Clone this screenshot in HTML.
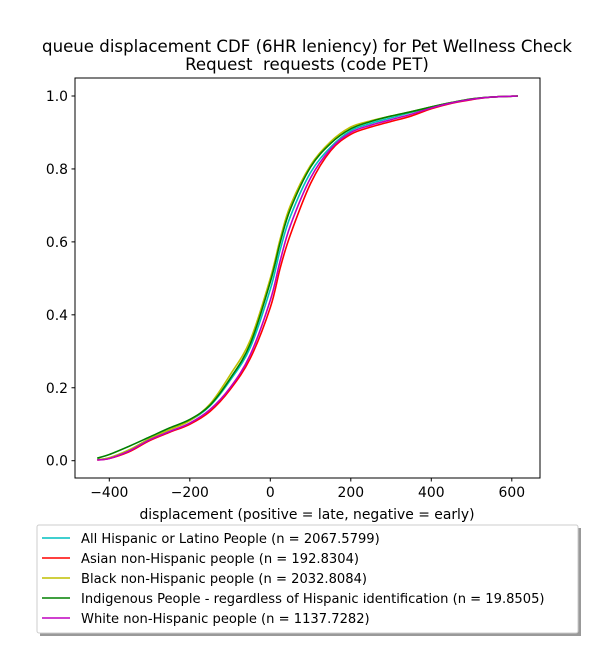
<!DOCTYPE html>
<html><head><meta charset="utf-8">
<style>
body{margin:0;background:#fff;font-family:"Liberation Sans","DejaVu Sans",sans-serif;}
svg text{font-family:"DejaVu Sans","Liberation Sans",sans-serif;}
</style></head>
<body>
<svg width="600" height="650" viewBox="0 0 600 650" xmlns="http://www.w3.org/2000/svg">
<rect width="600" height="650" fill="#fff"/>
<text x="307" y="52" font-size="16.6" text-anchor="middle" xml:space="preserve">queue displacement CDF (6HR leniency) for Pet Wellness Check</text>
<text x="307" y="70" font-size="16.6" text-anchor="middle" xml:space="preserve">Request  requests (code PET)</text>
<g id="plot"></g>
<rect x="75" y="78" width="465" height="400" fill="none" stroke="#000" stroke-width="1"/>
<g id="xticks"></g><g id="yticks"></g>
<text x="307" y="519" font-size="13.9" text-anchor="middle">displacement (positive = late, negative = early)</text>
<rect x="40" y="528" width="541" height="108" fill="#999"/>
<rect x="37" y="525" width="541" height="108" fill="#fff" stroke="#ccc" stroke-width="1" rx="2"/>
<g id="legend"></g>
</svg>
<script>
const xs=[-430,-400,-350,-300,-250,-200,-150,-100,-50,0,25,50,100,150,200,250,300,350,400,450,500,550,615];
const cyanVals=[0.003,0.008,0.03,0.06,0.085,0.11,0.15,0.22,0.31,0.47,0.58,0.67,0.79,0.86,0.905,0.925,0.94,0.955,0.97,0.982,0.992,0.997,1.0];
const redVals=[0.002,0.006,0.025,0.055,0.078,0.1,0.135,0.195,0.28,0.42,0.53,0.62,0.76,0.85,0.895,0.915,0.93,0.945,0.965,0.98,0.99,0.997,1.0];
const yellowVals=[0.003,0.008,0.03,0.06,0.085,0.11,0.155,0.235,0.33,0.5,0.61,0.70,0.81,0.875,0.915,0.932,0.945,0.957,0.97,0.982,0.992,0.997,1.0];
const greenVals=[0.007,0.017,0.04,0.065,0.09,0.113,0.152,0.225,0.32,0.49,0.6,0.69,0.805,0.87,0.91,0.93,0.945,0.957,0.97,0.982,0.992,0.997,1.0];
const magentaVals=[0.002,0.006,0.027,0.057,0.08,0.103,0.14,0.2,0.29,0.44,0.55,0.645,0.775,0.855,0.9,0.92,0.935,0.95,0.967,0.981,0.991,0.997,1.0];
const xTicks=[-400,-200,0,200,400,600];
const yTicks=[0.0,0.2,0.4,0.6,0.8,1.0];
const seriesNames=["All Hispanic or Latino People (n = 2067.5799)","Asian non-Hispanic people (n = 192.8304)","Black non-Hispanic people (n = 2032.8084)","Indigenous People - regardless of Hispanic identification (n = 19.8505)","White non-Hispanic people (n = 1137.7282)"];
const seriesColors=["#00bfbf","#ff0000","#bfbf00","#008000","#bf00bf"];
const seriesVals=[cyanVals,redVals,yellowVals,greenVals,magentaVals];
const NS="http://www.w3.org/2000/svg";
const X=v=>270.3+v*(80.5/200);
const Y=v=>460.7-v*364.7;
function mk(t,a){const e=document.createElementNS(NS,t);for(const k in a)e.setAttribute(k,a[k]);return e;}
const plot=document.getElementById('plot');
seriesVals.forEach((vals,i)=>{
  const p=vals.map((v,j)=>[X(xs[j]),Y(v)]);
  let d=`M${p[0][0]},${p[0][1]}`;
  for(let j=0;j<p.length-1;j++){
    const p0=p[Math.max(j-1,0)],p1=p[j],p2=p[j+1],p3=p[Math.min(j+2,p.length-1)];
    const c1=[p1[0]+(p2[0]-p0[0])/6,p1[1]+(p2[1]-p0[1])/6];
    const c2=[p2[0]-(p3[0]-p1[0])/6,p2[1]-(p3[1]-p1[1])/6];
    d+=`C${c1[0]},${c1[1]} ${c2[0]},${c2[1]} ${p2[0]},${p2[1]}`;
  }
  const path=mk('path',{d:d,fill:'none',stroke:seriesColors[i],'stroke-width':1.6});
  
  
  plot.appendChild(path);
});
const xt=document.getElementById('xticks');
xTicks.forEach(t=>{
  const l=mk('line',{x1:X(t),x2:X(t),y1:478,y2:481.5,stroke:'#000'});
  
  
  xt.appendChild(l);
  const tx=mk('text',{x:X(t),y:497,'font-size':13.9,'text-anchor':'middle'});
  
  
  tx.textContent=t<0?'\u2212'+(-t):String(t);
  xt.appendChild(tx);
});
const yt=document.getElementById('yticks');
yTicks.forEach(t=>{
  const l=mk('line',{x1:71.5,x2:75,y1:Y(t),y2:Y(t),stroke:'#000'});
  
  
  yt.appendChild(l);
  const tx=mk('text',{x:68,y:Y(t)+5,'font-size':13.9,'text-anchor':'end'});
  
  
  tx.textContent=t.toFixed(1);
  yt.appendChild(tx);
});
const lg=document.getElementById('legend');
seriesNames.forEach((n,i)=>{
  const y=538+i*20;
  const l=mk('line',{x1:42,x2:70,y1:y,y2:y,stroke:seriesColors[i],'stroke-width':1.6});
  
  
  lg.appendChild(l);
  const tx=mk('text',{x:81,y:y+5,'font-size':13.1});
  
  
  tx.textContent=n;
  lg.appendChild(tx);
});
</script>
</body></html>
